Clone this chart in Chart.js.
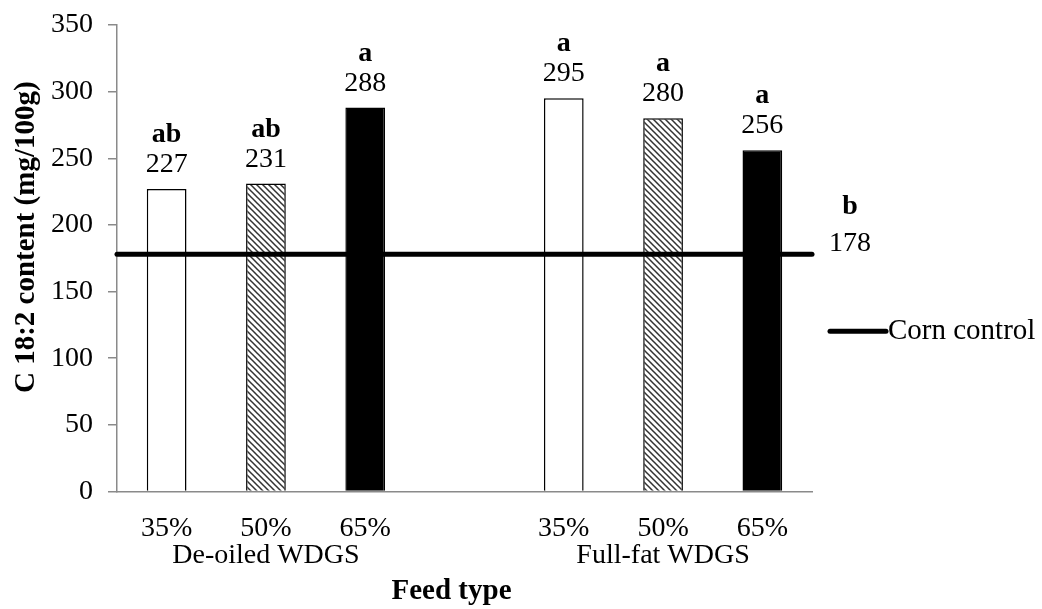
<!DOCTYPE html>
<html>
<head>
<meta charset="utf-8">
<script src="https://cdn.jsdelivr.net/npm/chart.js@4.4.1/dist/chart.umd.min.js"></script>
<style>
  html, body { margin: 0; padding: 0; background: #fff; }
</style>
</head>
<body>
<canvas id="c18Chart" width="1042" height="609"></canvas>
<script>
(function () {
  // C 18:2 content per feed level, two WDGS types with an empty slot between them
  const categories = ['35%', '50%', '65%', '', '35%', '50%', '65%'];
  const categoryGroup = [0, 0, 0, null, 1, 1, 1];
  const groupNames = ['De-oiled WDGS', 'Full-fat WDGS'];
  const c18Values = [227, 231, 288, null, 295, 280, 256];
  const sigLetters = ['ab', 'ab', 'a', '', 'a', 'a', 'a'];
  const controlName = 'Corn control';
  const controlValue = 178;
  const controlLetter = 'b';
  const yMin = 0, yMax = 350, yStep = 50;

  const SERIF = "'Liberation Serif', 'Times New Roman', serif";
  const FS = 28;
  const FS_TITLE = 29;
  const AXIS_GREY = '#8a8a8a';

  const canvas = document.getElementById('c18Chart');
  const ctx2d = canvas.getContext('2d');

  function makeHatch() {
    const s = 6;
    const c = document.createElement('canvas');
    c.width = s; c.height = s;
    const g = c.getContext('2d');
    g.fillStyle = '#fff';
    g.fillRect(0, 0, s, s);
    g.strokeStyle = '#333';
    g.lineWidth = 1.5;
    g.beginPath();
    g.moveTo(-1, -1); g.lineTo(s + 1, s + 1);
    g.moveTo(-1, s - 1); g.lineTo(1, s + 1);
    g.moveTo(s - 1, -1); g.lineTo(s + 1, 1);
    g.stroke();
    return ctx2d.createPattern(c, 'repeat');
  }

  const fillByLevel = { '35%': '#ffffff', '50%': makeHatch(), '65%': '#000000' };
  const barFills = categories.map(c => fillByLevel[c] || '#ffffff');

  function groupMid(gi) {
    const idx = categoryGroup.map((g, i) => (g === gi ? i : null)).filter(i => i !== null);
    return (idx[0] + idx[idx.length - 1]) / 2;
  }

  const labelsPlugin = {
    id: 'c18Labels',
    afterDatasetsDraw(chart) {
      const { ctx, chartArea, scales } = chart;
      const bars = chart.getDatasetMeta(0).data;
      ctx.save();
      ctx.fillStyle = '#000';
      ctx.textAlign = 'center';
      ctx.textBaseline = 'alphabetic';

      // value and significance letter above each bar
      bars.forEach((bar, i) => {
        if (c18Values[i] == null) return;
        ctx.font = `${FS}px ${SERIF}`;
        ctx.fillText(String(c18Values[i]), bar.x, bar.y - 17);
        ctx.font = `bold ${FS}px ${SERIF}`;
        ctx.fillText(sigLetters[i], bar.x, bar.y - 47);
      });

      // control line value at its right end
      const yLine = scales.y.getPixelForValue(controlValue);
      const lx = chartArea.right + 38;
      ctx.font = `${FS}px ${SERIF}`;
      ctx.fillText(String(controlValue), lx, yLine - 3);
      ctx.font = `bold ${FS}px ${SERIF}`;
      ctx.fillText(controlLetter, lx, yLine - 40);

      // group names under the percentage ticks
      ctx.font = `${FS}px ${SERIF}`;
      ctx.textBaseline = 'middle';
      groupNames.forEach((name, gi) => {
        ctx.fillText(name, scales.x.getPixelForValue(groupMid(gi)), chartArea.bottom + 64);
      });

      // axis titles
      ctx.font = `bold ${FS_TITLE}px ${SERIF}`;
      ctx.fillText('Feed type', (chartArea.left + chartArea.right) / 2 - 13, chartArea.bottom + 100);
      ctx.save();
      ctx.translate(27, (chartArea.top + chartArea.bottom) / 2 - 21);
      ctx.rotate(-Math.PI / 2);
      ctx.fillText('C 18:2 content (mg/100g)', 0, 0);
      ctx.restore();

      // legend entry for the control line
      const legY = yLine + 77;
      const legX = chartArea.right + 18;
      ctx.strokeStyle = '#000';
      ctx.lineWidth = 5;
      ctx.lineCap = 'round';
      ctx.beginPath();
      ctx.moveTo(legX, legY);
      ctx.lineTo(legX + 56, legY);
      ctx.stroke();
      ctx.textAlign = 'left';
      ctx.font = `${FS_TITLE}px ${SERIF}`;
      ctx.fillText(controlName, legX + 58, legY);
      ctx.restore();
    }
  };

  new Chart(canvas, {
    type: 'bar',
    data: {
      labels: categories,
      datasets: [
        {
          type: 'bar',
          label: 'C 18:2',
          data: c18Values,
          backgroundColor: barFills,
          borderColor: '#000',
          borderWidth: 1.5,
          grouped: false,
          categoryPercentage: 1,
          barPercentage: 0.4,
          order: 2
        },
        {
          type: 'line',
          label: controlName,
          xAxisID: 'xl',
          data: [
            { x: -0.5, y: controlValue },
            { x: categories.length - 0.5, y: controlValue }
          ],
          borderColor: '#000',
          borderWidth: 5,
          borderCapStyle: 'round',
          pointRadius: 0,
          clip: false,
          order: 1
        }
      ]
    },
    options: {
      responsive: false,
      animation: false,
      layout: { padding: { left: 36, right: 230, top: 2, bottom: 44 } },
      plugins: {
        legend: { display: false },
        tooltip: { enabled: false }
      },
      scales: {
        x: {
          grid: { display: false, drawTicks: false },
          border: { display: true, color: AXIS_GREY, width: 1.5 },
          ticks: {
            color: '#000',
            font: { family: SERIF, size: FS },
            padding: 20,
            maxRotation: 0,
            autoSkip: false
          }
        },
        xl: {
          type: 'linear',
          display: false,
          offset: false,
          min: -0.5,
          max: categories.length - 0.5
        },
        y: {
          min: yMin,
          max: yMax,
          afterFit(scale) {
            // keep the 350 tick close to the top edge
            scale.paddingTop = 25;
          },
          grid: {
            display: true,
            drawOnChartArea: false,
            drawTicks: true,
            tickLength: 9,
            color: AXIS_GREY,
            lineWidth: 1.5
          },
          border: { display: true, color: AXIS_GREY, width: 1.5 },
          ticks: {
            stepSize: yStep,
            color: '#000',
            font: { family: SERIF, size: FS },
            padding: 15
          }
        }
      }
    },
    plugins: [labelsPlugin]
  });
})();
</script>
</body>
</html>
